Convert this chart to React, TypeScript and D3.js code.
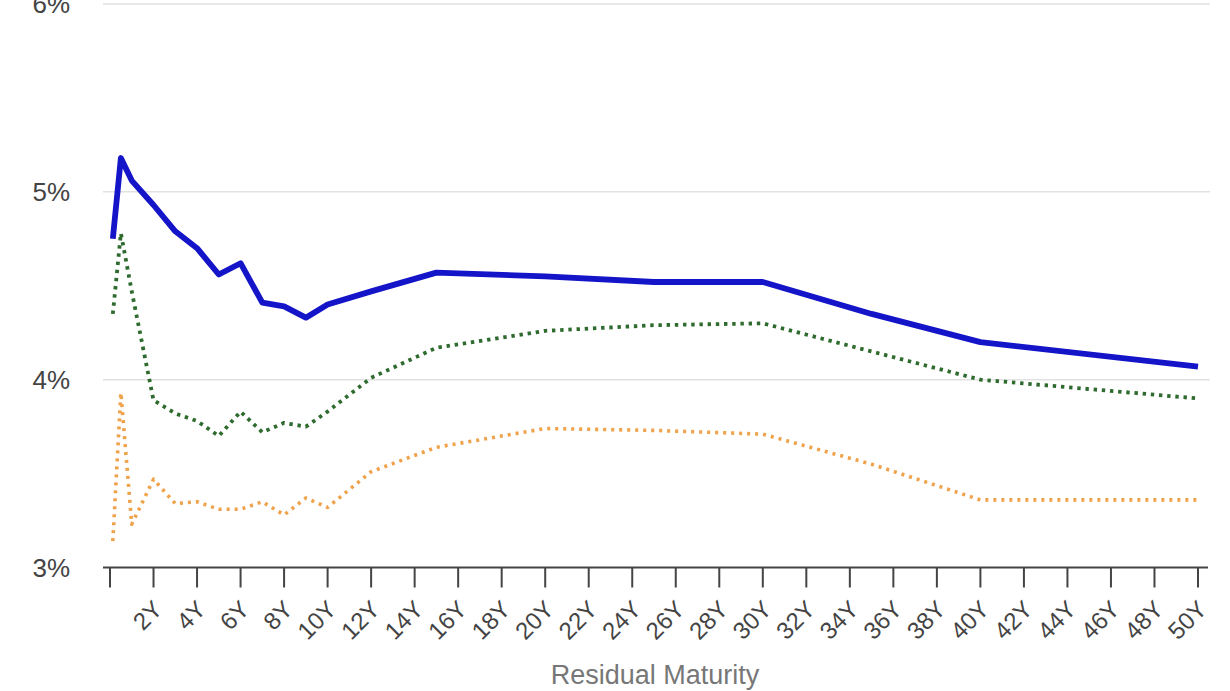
import React from "react";
import * as d3 from "d3";

const maturities = [0.13, 0.5, 1, 2, 3, 4, 5, 6, 7, 8, 9, 10, 12, 15, 20, 25, 30, 35, 40, 50];
const blueSeries = [4.75, 5.18, 5.06, 4.93, 4.79, 4.70, 4.56, 4.62, 4.41, 4.39, 4.33, 4.40, 4.47, 4.57, 4.55, 4.52, 4.52, 4.35, 4.20, 4.07];
const greenSeries = [4.35, 4.78, 4.47, 3.89, 3.82, 3.78, 3.70, 3.83, 3.72, 3.77, 3.75, 3.83, 4.01, 4.17, 4.26, 4.29, 4.30, 4.15, 4.00, 3.90];
const orangeSeries = [3.14, 3.93, 3.23, 3.47, 3.34, 3.35, 3.31, 3.31, 3.35, 3.28, 3.37, 3.32, 3.51, 3.64, 3.74, 3.73, 3.71, 3.55, 3.36, 3.36];
const xTicks = d3.range(0, 51, 2);
const yTicks = [3, 4, 5, 6];
const xTitle = "Residual Maturity";

const series = [
  { name: "orange", values: orangeSeries, color: "#f0a24a", width: 3.6, dash: "3,5" },
  { name: "green", values: greenSeries, color: "#2f6b2f", width: 3.8, dash: "3.4,4.8" },
  { name: "blue", values: blueSeries, color: "#1414c8", width: 5.8, dash: null as string | null },
];

export default function App() {
  const W = 1230, H = 691;
  const x = d3.scaleLinear().domain([0, 50]).range([110, 1198]);
  const y = d3.scaleLinear().domain([3, 6]).range([567.5, 4]);
  const font = "'Liberation Sans', Arial, Helvetica, sans-serif";

  const mk = (vals: number[]) =>
    d3.line<number>().x((_, i) => x(maturities[i])).y((v) => y(v))(vals) || "";

  return (
    <svg width={W} height={H} style={{ position: "absolute", left: 0, top: 0, background: "#fff" }} fontFamily={font}>
      {yTicks.filter((t) => t !== 3).map((t) => (
        <line key={"g" + t} x1={103} x2={1210} y1={y(t)} y2={y(t)} stroke="#e2e2e2" strokeWidth={1.5} />
      ))}
      {yTicks.map((t) => (
        <text key={"yl" + t} x={70} y={y(t)} dy="0.36em" textAnchor="end" fontSize={26} fill="#444">
          {t + "%"}
        </text>
      ))}
      <line x1={103} x2={1208} y1={y(3)} y2={y(3)} stroke="#444" strokeWidth={2} />
      {xTicks.map((t) => (
        <g key={"xt" + t}>
          <line x1={x(t)} x2={x(t)} y1={y(3)} y2={y(3) + 20} stroke="#444" strokeWidth={2} />
          {t > 0 && (
            <text
              transform={`translate(${x(t) - 2},${y(3) + 31}) rotate(-45)`}
              textAnchor="end"
              dy="0.72em"
              fontSize={24}
              fill="#444"
            >
              {t + "Y"}
            </text>
          )}
        </g>
      ))}
      {series.map((s) => (
        <path
          key={s.name}
          d={mk(s.values)}
          fill="none"
          stroke={s.color}
          strokeWidth={s.width}
          strokeDasharray={s.dash || undefined}
          strokeLinejoin="round"
        />
      ))}
      <text x={655} y={684} textAnchor="middle" fontSize={27} fill="#777">
        {xTitle}
      </text>
    </svg>
  );
}
